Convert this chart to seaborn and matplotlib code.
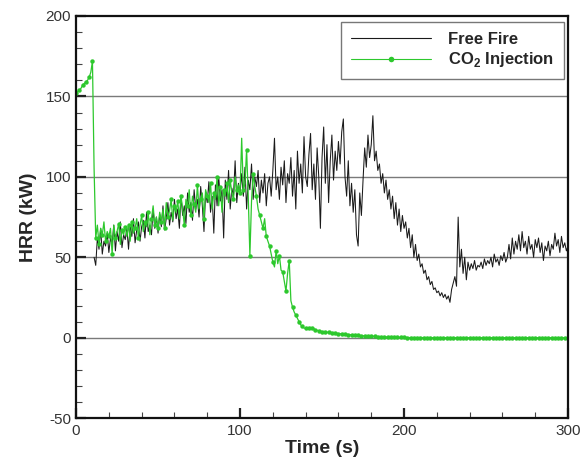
import matplotlib
matplotlib.use("Agg")
import matplotlib.pyplot as plt
import seaborn as sns
import pandas as pd
from matplotlib.ticker import MultipleLocator

# ---------------- data ----------------
free_time = list(range(11, 301))
free_hrr = [
    50, 45, 62, 55, 68, 52, 60, 57, 65, 53,
    62, 58, 70, 54, 66, 60, 72, 56, 64, 61,
    68, 55, 70, 63, 74, 59, 67, 72, 60, 69,
    73, 62, 78, 66, 70, 64, 80, 68, 75, 65,
    77, 69, 82, 67, 74, 84, 70, 78, 72, 86,
    74, 80, 68, 88, 76, 82, 71, 90, 78, 84,
    73, 92, 80, 86, 75, 94, 82, 66, 90, 84,
    97, 78, 88, 65, 95, 82, 100, 85, 92, 62,
    98, 86, 104, 80, 93, 88, 110, 84, 96, 90,
    102, 88, 106, 80, 98, 92, 108, 86, 100, 94,
    104, 84, 98, 90, 102, 82, 96, 100, 88, 104,
    124, 92, 100, 86, 106, 95, 110, 84, 102, 96,
    112, 88, 104, 80, 116, 96, 108, 90, 125, 100,
    94, 114, 127, 92, 108, 86, 118, 100, 68, 112,
    131, 96, 120, 84, 110, 126, 98, 116, 104, 122,
    108, 128, 136, 100, 88, 110, 82, 96, 78, 92,
    64, 57, 90, 76, 98, 118, 106, 126, 112, 120,
    138, 110, 116, 104, 108, 96, 102, 90, 98, 86,
    92, 80, 88, 74, 84, 70, 80, 66, 76, 68,
    72, 62, 68, 56, 64, 50, 58, 48, 52, 44,
    46, 40, 42, 36, 38, 33, 35, 30, 31, 28,
    29, 26, 28, 25, 27, 24, 26, 22, 30, 34,
    38, 32, 75, 44, 55, 40, 50, 36, 47, 42,
    46, 43, 48, 42, 45, 44, 47, 43, 49, 45,
    48, 46, 50, 44, 52, 47, 49, 45, 51, 48,
    53, 47, 50, 58, 49, 62, 52, 60, 55, 64,
    54, 66, 56, 60, 52, 63, 55, 58, 50, 61,
    56, 62, 53, 59, 48, 57, 54, 60, 51, 58,
    55, 65, 57, 61, 53, 63, 56, 59, 54, 57,
]

co2_time = list(range(0, 301))
co2_hrr = [
    152, 153, 154, 155, 157, 158, 159, 160, 162, 165, 172,
    105, 62, 70, 58, 68, 64, 72, 60, 66, 63,
    68, 52, 70, 62, 66, 71, 58, 67, 64, 69,
    63, 70, 60, 72, 65, 68, 74, 62, 70, 76,
    66, 72, 69, 78, 64, 74, 82, 70, 75, 68,
    78, 72, 80, 68, 84, 75, 79, 86, 73, 82,
    78, 85, 74, 88, 80, 70, 86, 82, 92, 76,
    88, 83, 78, 95, 80, 86, 90, 74, 92, 88,
    84, 96, 80, 90, 86, 100, 82, 94, 78, 92,
    88, 96, 84, 98, 90, 86, 100, 92, 95, 90,
    124, 92, 96, 117, 88, 51, 85, 102, 94, 88,
    80, 76, 72, 68, 74, 63, 60, 57, 52, 47,
    44, 54, 46, 51, 42, 41, 35, 29, 40, 48,
    23, 19, 16, 14, 12, 10, 8, 7, 6, 5.8,
    5.6, 6.0, 6.4, 6.2, 5.6, 5.0, 4.6, 4.3, 4.0, 3.8,
    3.6, 3.5, 3.4, 3.3, 3.2, 3.0, 2.9, 2.8, 2.7, 2.6,
    2.5, 2.4, 2.3, 2.2, 2.1, 2.0, 1.9, 1.8, 1.7, 1.6,
    1.5, 1.4, 1.3, 1.3, 1.2, 1.1, 1.1, 1.0, 1.0, 0.9,
    0.9, 0.8, 0.8, 0.7, 0.7, 0.6, 0.6, 0.5, 0.5, 0.5,
    0.4, 0.4, 0.4, 0.3, 0.3, 0.3, 0.2, 0.2, 0.2, 0.2,
    0.2, 0.1, 0.1, 0.1, 0.1, 0.1, 0.1, 0.1, 0.1, 0.1,
    0.1, 0.1, 0.1, 0.1, 0.1, 0.1, 0.0, 0.0, 0.0, 0.0,
    0.0, 0.0, 0.0, 0.0, 0.0, 0.0, 0.0, 0.0, 0.0, 0.0,
    0.0, 0.0, 0.0, 0.0, 0.0, 0.0, 0.0, 0.0, 0.0, 0.0,
    0.0, 0.0, 0.0, 0.0, 0.0, 0.0, 0.0, 0.0, 0.0, 0.0,
    0.0, 0.0, 0.0, 0.0, 0.0, 0.0, 0.0, 0.0, 0.0, 0.0,
    0.0, 0.0, 0.0, 0.0, 0.0, 0.0, 0.0, 0.0, 0.0, 0.0,
    0.0, 0.0, 0.0, 0.0, 0.0, 0.0, 0.0, 0.0, 0.0, 0.0,
    0.0, 0.0, 0.0, 0.0, 0.0, 0.0, 0.0, 0.0, 0.0, 0.0,
    0.0, 0.0, 0.0, 0.0, 0.0, 0.0, 0.0, 0.0, 0.0, 0.0,
]

x_ticks = [0, 100, 200, 300]
y_ticks = [-50, 0, 50, 100, 150, 200]
grid_levels = [0, 50, 100, 150]
series_labels = ["Free Fire", "CO$_{\\mathbf{2}}$ Injection"]

# ---------------- style ----------------
sns.set_style("white")
plt.rcParams["font.family"] = ["Liberation Sans", "DejaVu Sans"]
plt.rcParams["mathtext.fontset"] = "custom"
plt.rcParams["mathtext.rm"] = "Liberation Sans"
plt.rcParams["mathtext.bf"] = "Liberation Sans:bold"
plt.rcParams["axes.unicode_minus"] = False

fig = plt.figure(figsize=(5.85, 4.57), dpi=100)
ax = fig.add_axes([0.130, 0.085, 0.841, 0.880])

df_free = pd.DataFrame({"t": free_time, "hrr": free_hrr})
df_co2 = pd.DataFrame({"t": co2_time, "hrr": co2_hrr})

for lvl in grid_levels:
    ax.axhline(lvl, color="#7a7a7a", lw=1.0, zorder=0)

sns.lineplot(data=df_free, x="t", y="hrr", ax=ax, color="#1a1a1a",
             lw=0.75, label=series_labels[0], sort=False)
sns.lineplot(data=df_co2, x="t", y="hrr", ax=ax, color="#2dc82d",
             lw=0.9, marker="o", markersize=3.2, markeredgewidth=0,
             markevery=2, label=series_labels[1], sort=False)

ax.set_xlim(0, 300)
ax.set_ylim(-50, 200)
ax.set_xticks(x_ticks)
ax.set_yticks(y_ticks)
ax.xaxis.set_minor_locator(MultipleLocator(20))
ax.yaxis.set_minor_locator(MultipleLocator(10))
ax.tick_params(which="major", direction="in", length=7, width=1.6,
               colors="#222222", labelsize=11, labelcolor="#333333",
               bottom=True, left=True, top=False, right=False)
ax.tick_params(which="minor", direction="in", length=4, width=0.8,
               colors="#444444", bottom=True, left=True,
               top=False, right=False)
ax.tick_params(axis="x", which="major", pad=4)

for sp in ax.spines.values():
    sp.set_color("#111111")
    sp.set_linewidth(1.6)

ax.set_xlabel("Time (s)", fontsize=14, fontweight="bold", labelpad=2)
ax.set_ylabel("HRR (kW)", fontsize=14, fontweight="bold", labelpad=6)

leg = ax.legend(loc="upper right", frameon=True, fancybox=False,
                framealpha=1, edgecolor="#777777", numpoints=1,
                handlelength=4.8, handletextpad=1.0, borderpad=0.6,
                labelspacing=0.2, prop={"weight": "bold", "size": 12},
                borderaxespad=0, bbox_to_anchor=(0.992, 0.985))
leg.get_frame().set_linewidth(1.0)
for h in leg.legend_handles:
    h.set_linewidth(0.8)
    h.set_markersize(4)

fig.savefig("out.png", dpi=100)
